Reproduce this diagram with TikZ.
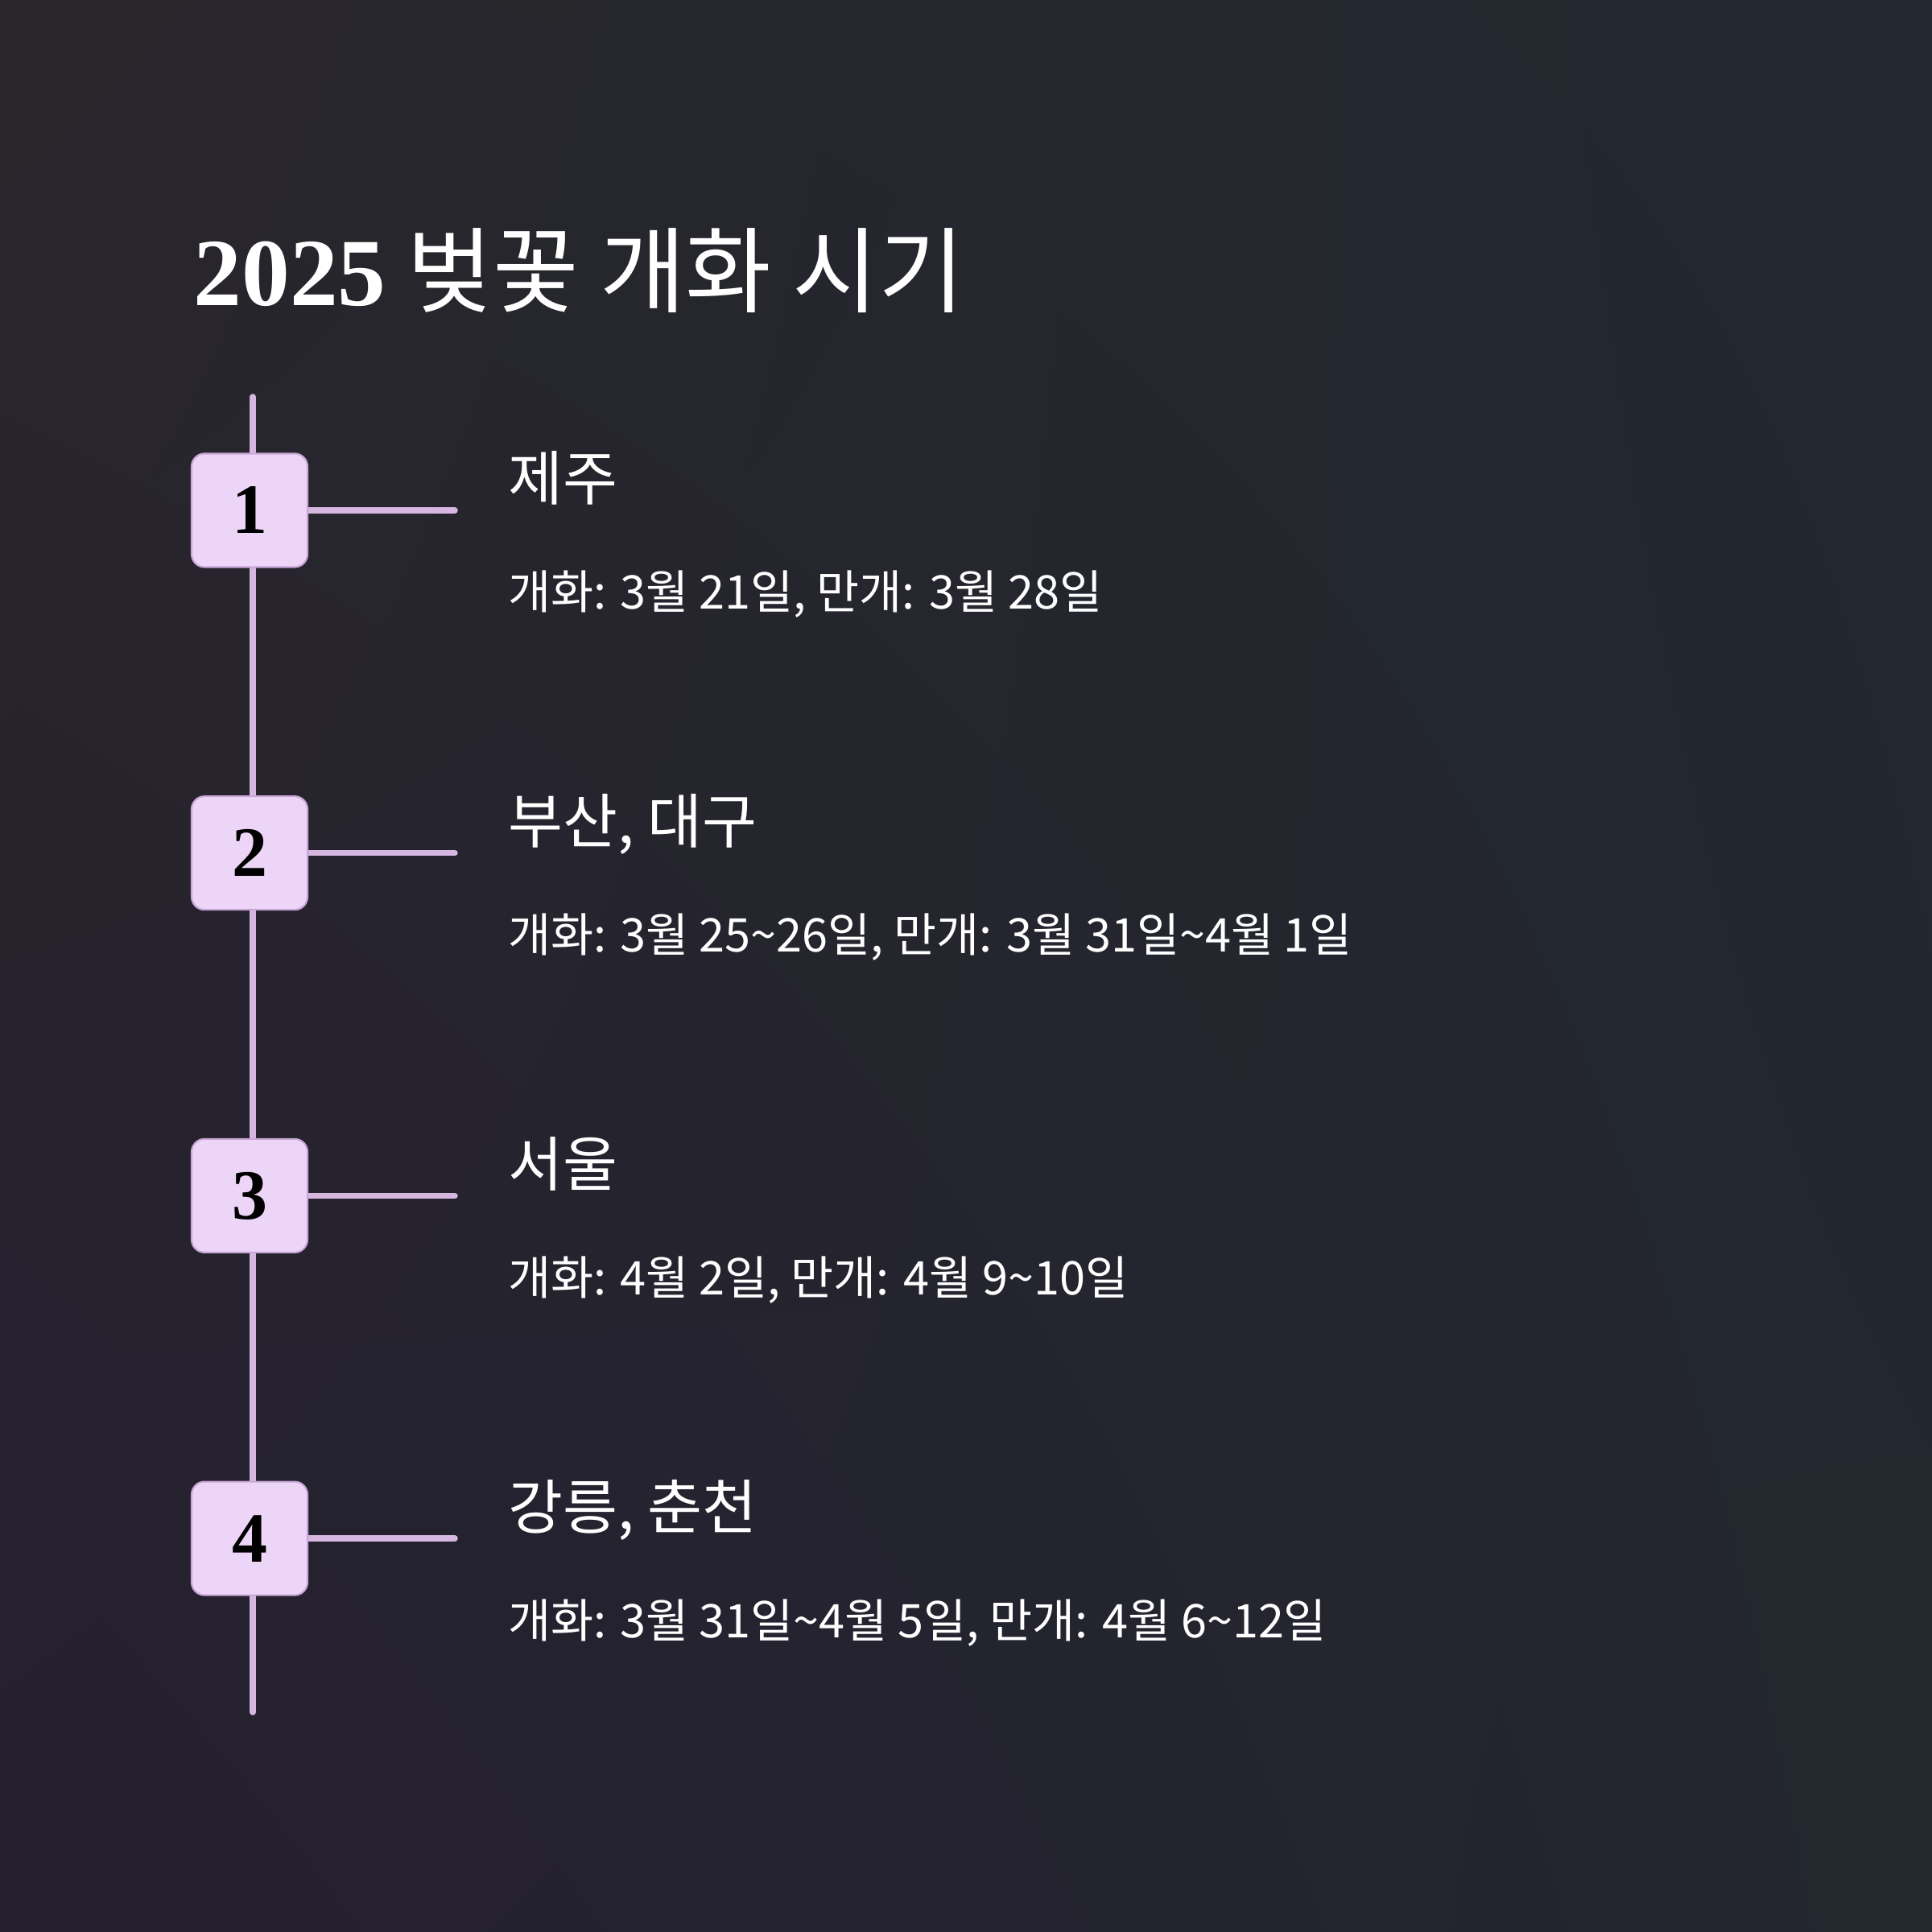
\documentclass[tikz,border=0pt]{standalone}
\usepackage{fontspec}
\setmainfont{Noto Sans CJK KR}
\newfontfamily\numfont{Liberation Serif}
\usetikzlibrary{shadings}

\definecolor{bgul}{HTML}{29262B}
\definecolor{bgur}{HTML}{212830}
\definecolor{bgll}{HTML}{251F30}
\definecolor{bglr}{HTML}{23272E}
\definecolor{boxfill}{HTML}{EDD5F8}
\definecolor{boxline}{HTML}{C8A6D6}
\definecolor{tlcolor}{HTML}{D5B7E0}

\newcommand{\tl}{\textasciitilde}

\tikzset{
  tlline/.style={draw=tlcolor, line width=0.075cm, line cap=round},
  stepnum/.style={draw=boxline, line width=0.6pt, fill=boxfill,
    rounded corners=0.16cm, minimum width=1.44cm, minimum height=1.41cm,
    inner sep=0pt, text=black, font=\fontsize{25}{28}\selectfont\numfont\bfseries},
  place/.style={anchor=base west, inner sep=0pt, text=white,
    font=\fontsize{21}{25}\selectfont},
  dates/.style={anchor=base west, inner sep=0pt, text=white,
    font=\fontsize{16.4}{20}\selectfont}
}

\begin{document}
\begin{tikzpicture}

% Background
\shade[upper left=bgul, upper right=bgur, lower left=bgll, lower right=bglr]
    (0,0) rectangle (24,24);
\useasboundingbox (0,0) rectangle (24,24);

% Title
\node[anchor=base west, inner sep=0pt, text=white,
    font=\fontsize{33}{38}\selectfont] (title) at (2.40,20.20)
    {{\numfont\bfseries\fontsize{34}{38}\selectfont 2025} 벚꽃 개화 시기};

% Timeline
\coordinate (top) at (3.14,19.07);
\coordinate (bottom) at (3.14,2.73);
\draw[tlline] (top) -- (bottom);

% Steps
\foreach \n/\where/\when in {
    1/제주/{개화: 3월 21일, 만개: 3월 28일},
    2/{부산, 대구}/{개화: 3월 25\tl26일, 만개: 3월 31일\tl4월 1일},
    3/서울/{개화: 4월 2일, 만개: 4월 9\tl10일},
    4/{강릉, 춘천}/{개화: 3월 31일\tl4월 5일, 만개: 4월 6\tl12일}}
{
    \pgfmathsetmacro\yc{24-6.34-4.257*(\n-1)}
    \coordinate (tick\n) at (5.65,\yc);
    \draw[tlline] (3.10,\yc) -- (tick\n);
    \node[stepnum] (box\n) at (3.10,\yc) {\n};
    \node[place] (place\n) at (6.31,\yc+0.12) {\where};
    \node[dates] (dates\n) at (6.31,\yc-1.23) {\when};
}

\end{tikzpicture}
\end{document}
